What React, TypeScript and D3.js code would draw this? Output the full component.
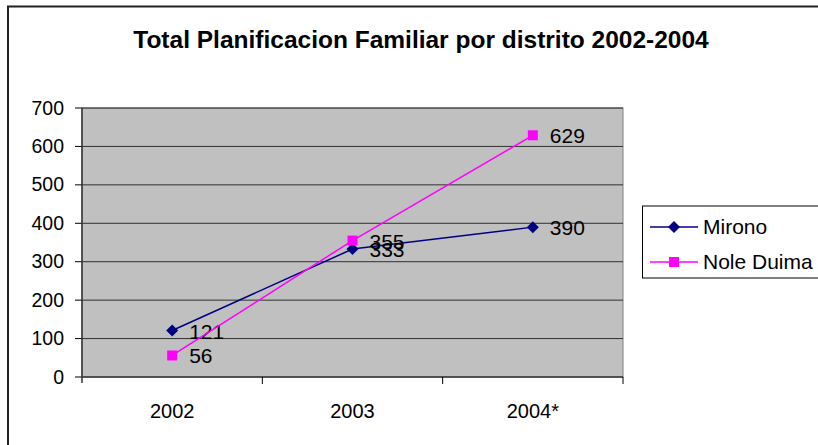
import React from "react";
import * as d3 from "d3";

const categories = ["2002", "2003", "2004*"];
const mirono = [121, 333, 390];
const noleDuima = [56, 355, 629];
const yTicks = [0, 100, 200, 300, 400, 500, 600, 700];
const title = "Total Planificacion Familiar por distrito 2002-2004";

export default function App() {
  const W = 818, H = 445;
  const left = 82, right = 623, top = 108, bottom = 377;
  const x = d3.scaleBand().domain(categories).range([left, right]);
  const y = d3.scaleLinear().domain([0, 700]).range([bottom, top]);
  const cx = (c: string) => (x(c) as number) + x.bandwidth() / 2;
  const line = d3.line<number>().x((_, i) => cx(categories[i])).y((d) => y(d));
  const font = "Liberation Sans, Arial, sans-serif";
  const series = [
    { name: "Mirono", values: mirono, color: "#000080", marker: "diamond" },
    { name: "Nole Duima", values: noleDuima, color: "#FF00FF", marker: "square" },
  ];
  const marker = (m: string, px: number, py: number, color: string) =>
    m === "diamond" ? (
      <path d={`M${px},${py - 6}L${px + 6},${py}L${px},${py + 6}L${px - 6},${py}Z`} fill={color} />
    ) : (
      <rect x={px - 5} y={py - 5} width={10} height={10} fill={color} />
    );
  return (
    <svg width={W} height={H} style={{ position: "absolute", left: 0, top: 0 }} fontFamily={font}>
      <rect x={0} y={0} width={W} height={H} fill="#fff" />
      <rect x={8} y={6.5} width={W + 10} height={H + 10} fill="none" stroke="#222" strokeWidth={2} />
      <text x={421} y={48} textAnchor="middle" fontSize={24.5} fontWeight="bold">{title}</text>
      <rect x={left} y={top} width={right - left} height={bottom - top} fill="#C0C0C0" stroke="#808080" strokeWidth={1} />
      {yTicks.map((t) => (
        <g key={t}>
          {t > 0 && <line x1={left} x2={right} y1={y(t)} y2={y(t)} stroke="#000" strokeWidth={1} opacity={0.75} />}
          <line x1={left - 7} x2={left} y1={y(t)} y2={y(t)} stroke="#000" />
          <text x={64} y={y(t) + 6.5} textAnchor="end" fontSize={19.5}>{t}</text>
        </g>
      ))}
      <line x1={left} x2={left} y1={top} y2={bottom + 6} stroke="#333" strokeWidth={1.5} />
      <line x1={left} x2={right} y1={bottom} y2={bottom} stroke="#333" strokeWidth={1.5} />
      {categories.map((c, i) => (
        <g key={c}>
          <line x1={(x(c) as number) + x.bandwidth()} x2={(x(c) as number) + x.bandwidth()} y1={bottom} y2={bottom + 7} stroke="#000" />
          <text x={cx(c)} y={418} textAnchor="middle" fontSize={20}>{c}</text>
        </g>
      ))}
      {series.map((s) => (
        <g key={s.name}>
          <path d={line(s.values) as string} fill="none" stroke={s.color} strokeWidth={1.5} />
          {s.values.map((v, i) => (
            <g key={i}>
              {marker(s.marker, cx(categories[i]), y(v), s.color)}
              <text x={cx(categories[i]) + 17} y={y(v) + 8} fontSize={21}>{v}</text>
            </g>
          ))}
        </g>
      ))}
      <rect x={642.5} y={206} width={190} height={72} fill="#fff" stroke="#000" strokeWidth={1} />
      {series.map((s, i) => {
        const ly = 227 + i * 35;
        return (
          <g key={s.name}>
            <line x1={650} x2={698} y1={ly} y2={ly} stroke={s.color} strokeWidth={1.5} />
            {marker(s.marker, 674, ly, s.color)}
            <text x={703} y={ly + 7} fontSize={21}>{s.name}</text>
          </g>
        );
      })}
    </svg>
  );
}
